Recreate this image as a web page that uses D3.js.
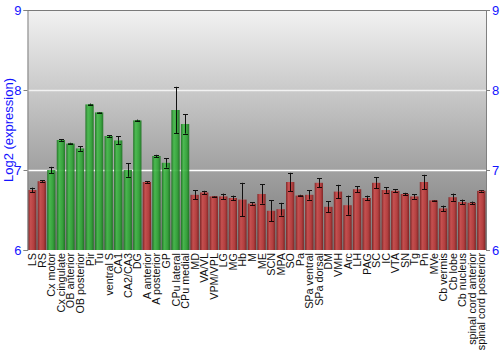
<!DOCTYPE html>
<html>
<head>
<meta charset="utf-8">
<script src="https://cdn.jsdelivr.net/npm/d3@7"></script>
<style>
  body { margin: 0; background: #fff; }
  svg { font-family: "Liberation Sans", Arial, sans-serif; }
</style>
</head>
<body>
<div id="chart"></div>
<script>
// data
const regions = ["LS", "RS", "Cx motor", "Cx cingulate", "OB anterior", "OB posterior", "Pir", "Tu",
  "ventral S", "CA1", "CA2/CA3", "DG", "A anterior", "A posterior", "GP", "CPu lateral", "CPu medial",
  "MD", "VA/VL", "VPM/VPL", "LG", "MG", "Hb", "M", "ME", "SCN", "MPA", "SO", "Pa", "SPa ventral",
  "SPa dorsal", "DM", "VMH", "Arc", "LH", "PAG", "SC", "IC", "VTA", "SN", "Tg", "Pn", "MVe",
  "Cb vermis", "Cb lobe", "Cb nucleus", "spinal cord anterior", "spinal cord posterior"];
const expression = [6.75, 6.86, 7.0, 7.375, 7.33, 7.27, 7.82, 7.72,
  7.425, 7.37, 7.0, 7.62, 6.85, 7.175, 7.09, 7.75, 7.575,
  6.69, 6.72, 6.67, 6.67, 6.65, 6.63, 6.58, 6.70, 6.49, 6.51, 6.85, 6.68, 6.69,
  6.84, 6.54, 6.73, 6.56, 6.76, 6.65, 6.84, 6.75, 6.74, 6.70, 6.67, 6.85, 6.62,
  6.52, 6.66, 6.60, 6.59, 6.74];
const stdErr = [0.03, 0.01, 0.04, 0.01, 0.01, 0.03, 0.01, 0.005,
  0.01, 0.05, 0.085, 0.01, 0.01, 0.015, 0.06, 0.29, 0.12,
  0.055, 0.02, 0.005, 0.035, 0.03, 0.21, 0.015, 0.12, 0.13, 0.08, 0.115, 0.01, 0.06,
  0.055, 0.07, 0.085, 0.12, 0.035, 0.03, 0.07, 0.035, 0.02, 0.015, 0.03, 0.09, 0.005,
  0.035, 0.045, 0.03, 0.015, 0.01];
// green = enriched regions
const enriched = ["Cx motor", "Cx cingulate", "OB anterior", "OB posterior", "Pir", "Tu", "ventral S",
  "CA1", "CA2/CA3", "DG", "A posterior", "GP", "CPu lateral", "CPu medial"];
const yTicks = [6, 7, 8, 9];

const W = 500, H = 350;
const margin = { top: 10, right: 14, bottom: 100, left: 27.5 };
const data = regions.map((r, i) => ({ name: r, v: expression[i], e: stdErr[i] }));

const svg = d3.select("#chart").append("svg").attr("width", W).attr("height", H);
const defs = svg.append("defs");

const bg = defs.append("linearGradient").attr("id", "bg")
  .attr("x1", 0).attr("y1", 0).attr("x2", 0).attr("y2", 1);
bg.append("stop").attr("offset", "0%").attr("stop-color", "#f2f2f2");
bg.append("stop").attr("offset", "100%").attr("stop-color", "#787878");

function barGrad(id, dark, mid, light) {
  const g = defs.append("linearGradient").attr("id", id)
    .attr("x1", 0).attr("y1", 0).attr("x2", 1).attr("y2", 0);
  g.append("stop").attr("offset", "0%").attr("stop-color", dark);
  g.append("stop").attr("offset", "30%").attr("stop-color", light);
  g.append("stop").attr("offset", "70%").attr("stop-color", mid);
  g.append("stop").attr("offset", "100%").attr("stop-color", dark);
}
barGrad("gRed", "#7e1c1c", "#b83838", "#cc4a4a");
barGrad("gGreen", "#17701c", "#2ea334", "#42bb48");

const x = d3.scaleBand().domain(regions)
  .range([margin.left, W - margin.right]).paddingInner(0.13).paddingOuter(0.06);
const y = d3.scaleLinear().domain([6, 9]).range([H - margin.bottom, margin.top]);

// plot background
svg.append("rect")
  .attr("x", margin.left).attr("y", y(9))
  .attr("width", W - margin.right - margin.left).attr("height", y(6) - y(9))
  .attr("fill", "url(#bg)");

// grid lines
svg.append("g").selectAll("line").data([7, 8]).join("line")
  .attr("x1", margin.left).attr("x2", W - margin.right)
  .attr("y1", d => y(d) + 0.5).attr("y2", d => y(d) + 0.5)
  .attr("stroke", "#fff").attr("stroke-opacity", d => d === 8 ? 0.75 : 1).attr("stroke-width", 1.5);
svg.append("line")
  .attr("x1", margin.left).attr("x2", W - margin.right)
  .attr("y1", y(9) + 0.5).attr("y2", y(9) + 0.5)
  .attr("stroke", "#7a7a7a");

// error bars first, bars drawn a bit transparent over them
const err = svg.append("g").attr("stroke", "#111").attr("stroke-width", 1);
data.forEach(d => {
  const cx = Math.round(x(d.name) + x.bandwidth() / 2) + 0.5;
  err.append("line").attr("x1", cx).attr("x2", cx)
    .attr("y1", y(d.v + d.e)).attr("y2", y(d.v - d.e));
  [d.v + d.e, d.v - d.e].forEach(t => {
    err.append("line").attr("x1", cx - 2.5).attr("x2", cx + 2.5)
      .attr("y1", Math.round(y(t)) + 0.5).attr("y2", Math.round(y(t)) + 0.5);
  });
});

svg.append("g").selectAll("rect").data(data).join("rect")
  .attr("x", d => x(d.name))
  .attr("y", d => y(d.v))
  .attr("width", x.bandwidth())
  .attr("height", d => y(6) - y(d.v))
  .attr("fill", d => enriched.includes(d.name) ? "url(#gGreen)" : "url(#gRed)")
  .attr("fill-opacity", 0.9);

// error bars again, inside the bars
const err2 = svg.append("g").attr("stroke", "#000").attr("stroke-width", 1).attr("stroke-opacity", 0.85);
data.forEach(d => {
  const cx = Math.round(x(d.name) + x.bandwidth() / 2) + 0.5;
  err2.append("line").attr("x1", cx).attr("x2", cx)
    .attr("y1", y(d.v)).attr("y2", y(d.v - d.e));
  err2.append("line").attr("x1", cx - 2.5).attr("x2", cx + 2.5)
    .attr("y1", Math.round(y(d.v - d.e)) + 0.5).attr("y2", Math.round(y(d.v - d.e)) + 0.5);
});

// axes
const left = svg.append("g").attr("transform", `translate(${margin.left},0)`)
  .call(d3.axisLeft(y).tickValues(yTicks).tickFormat(d3.format("d")).tickSize(4).tickPadding(2));
const right = svg.append("g").attr("transform", `translate(${W - margin.right},0)`)
  .call(d3.axisRight(y).tickValues(yTicks).tickFormat(d3.format("d")).tickSize(4).tickPadding(2));
[left, right].forEach(a => {
  a.select(".domain").attr("stroke", "#808080");
  a.selectAll(".tick line").attr("stroke", "#808080");
  a.selectAll(".tick text").attr("fill", "#1414ff").attr("font-size", 13)
    .attr("font-family", "Liberation Sans, Arial, sans-serif");
});

// x labels
svg.append("g").selectAll("text").data(regions).join("text")
  .attr("transform", d => `translate(${x(d) + x.bandwidth() / 2 + 4},${y(6) + 3}) rotate(-90)`)
  .attr("text-anchor", "end")
  .attr("font-size", 10.8)
  .attr("fill", "#111")
  .text(d => d);

// y title
svg.append("text")
  .attr("transform", `translate(13,${(y(9) + y(6)) / 2}) rotate(-90)`)
  .attr("text-anchor", "middle")
  .attr("font-size", 13)
  .attr("fill", "#1414ff")
  .text("Log2 (expression)");
</script>
</body>
</html>
